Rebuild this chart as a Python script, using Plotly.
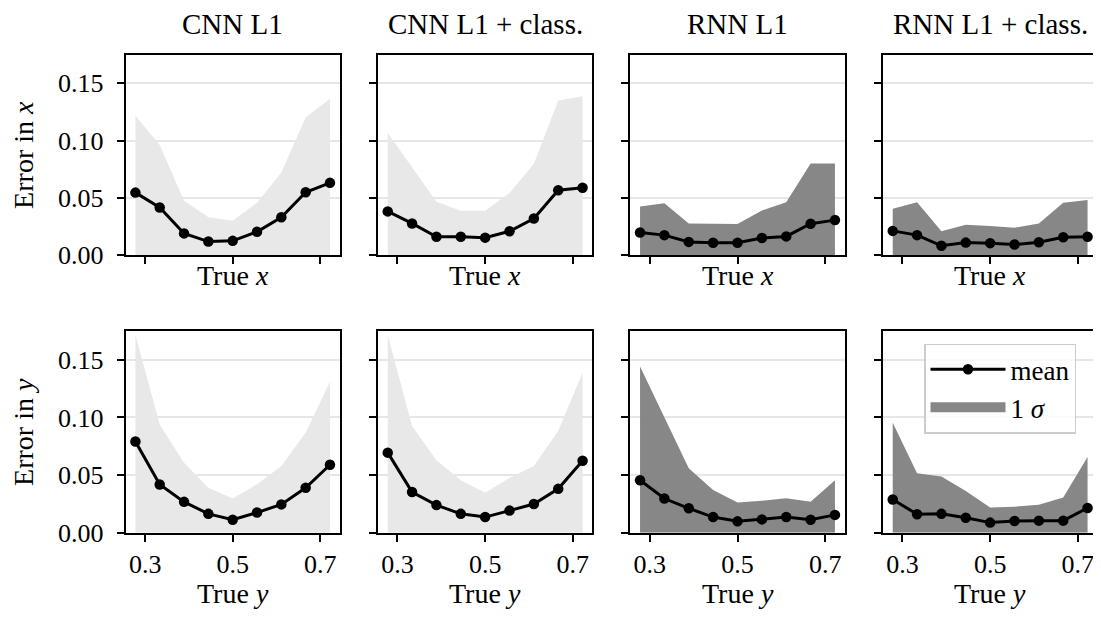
import plotly.graph_objects as go

# ---- data ----
true_pos = [0.2778, 0.3333, 0.3889, 0.4444, 0.5, 0.5556, 0.6111, 0.6667, 0.7222]

col_titles = ["CNN L1", "CNN L1 + class.", "RNN L1", "RNN L1 + class."]
row_ylabels = ["Error in <i>x</i>", "Error in <i>y</i>"]
row_xlabels = ["True <i>x</i>", "True <i>y</i>"]

cnn_x_mean = [0.0546, 0.0416, 0.0190, 0.0119, 0.0125, 0.0204, 0.0331, 0.0549, 0.0631]
cnn_x_upper = [0.1217, 0.0962, 0.0475, 0.0331, 0.0300, 0.0458, 0.0722, 0.1200, 0.1364]
cnncl_x_mean = [0.0382, 0.0277, 0.0161, 0.0161, 0.0153, 0.0209, 0.0320, 0.0566, 0.0589]
cnncl_x_upper = [0.1067, 0.0764, 0.0467, 0.0388, 0.0388, 0.0543, 0.0798, 0.1350, 0.1387]
rnn_x_mean = [0.0198, 0.0175, 0.0116, 0.0108, 0.0108, 0.0150, 0.0164, 0.0274, 0.0306]
rnn_x_upper = [0.0424, 0.0453, 0.0277, 0.0272, 0.0272, 0.0390, 0.0461, 0.0800, 0.0800]
rnncl_x_mean = [0.0212, 0.0175, 0.0082, 0.0110, 0.0105, 0.0093, 0.0113, 0.0156, 0.0161]
rnncl_x_upper = [0.0405, 0.0461, 0.0209, 0.0266, 0.0255, 0.0240, 0.0277, 0.0458, 0.0481]

cnn_y_mean = [0.0791, 0.0418, 0.0268, 0.0164, 0.0113, 0.0175, 0.0246, 0.0390, 0.0590]
cnn_y_upper = [0.1718, 0.0940, 0.0607, 0.0390, 0.0297, 0.0420, 0.0580, 0.0870, 0.1310]
cnncl_y_mean = [0.0695, 0.0353, 0.0240, 0.0164, 0.0136, 0.0192, 0.0249, 0.0381, 0.0624]
cnncl_y_upper = [0.1718, 0.0927, 0.0630, 0.0455, 0.0347, 0.0475, 0.0580, 0.0884, 0.1387]
rnn_y_mean = [0.0455, 0.0297, 0.0212, 0.0136, 0.0099, 0.0116, 0.0136, 0.0113, 0.0155]
rnn_y_upper = [0.1443, 0.0997, 0.0559, 0.0370, 0.0263, 0.0277, 0.0300, 0.0270, 0.0455]
rnncl_y_mean = [0.0288, 0.0161, 0.0164, 0.0130, 0.0088, 0.0102, 0.0105, 0.0105, 0.0215]
rnncl_y_upper = [0.0955, 0.0517, 0.0489, 0.0362, 0.0220, 0.0226, 0.0243, 0.0305, 0.0658]

x_ticks = [0.3, 0.5, 0.7]
x_ticktext = ["0.3", "0.5", "0.7"]
y_ticks = [0.0, 0.05, 0.10, 0.15]
y_ticktext = ["0.00", "0.05", "0.10", "0.15"]

panels = [
    [(cnn_x_mean, cnn_x_upper), (cnncl_x_mean, cnncl_x_upper),
     (rnn_x_mean, rnn_x_upper), (rnncl_x_mean, rnncl_x_upper)],
    [(cnn_y_mean, cnn_y_upper), (cnncl_y_mean, cnncl_y_upper),
     (rnn_y_mean, rnn_y_upper), (rnncl_y_mean, rnncl_y_upper)],
]
band_colors = ["#e8e8e8", "#e8e8e8", "#878787", "#878787"]

# ---- layout geometry ----
W, H = 1101, 623
col_px = [(117.7, 331.7), (370.0, 584.3), (622.3, 836.7), (875.0, 1089.3)]
row_px = [(47.7, 253.3), (331.0, 537.7)]

FONT = "Liberation Serif, DejaVu Serif, serif"

fig = go.Figure()
layout = dict(
    width=W, height=H,
    margin=dict(l=0, r=0, t=0, b=0),
    paper_bgcolor="white", plot_bgcolor="white",
    font=dict(family=FONT, size=26, color="black"),
    showlegend=True,
)
annotations = []

for r in range(2):
    for c in range(4):
        idx = r * 4 + c + 1
        xa = "x" if idx == 1 else f"x{idx}"
        ya = "y" if idx == 1 else f"y{idx}"
        mean, upper = panels[r][c]
        is_legend = (r == 1 and c == 3)
        fig.add_trace(go.Scatter(
            x=true_pos, y=upper, xaxis=xa, yaxis=ya,
            mode="lines", line=dict(width=0, color=band_colors[c]),
            fill="tozeroy", fillcolor=band_colors[c],
            name="1 <i>σ</i>", showlegend=False, legendgroup="band",
            hoverinfo="skip"))
        fig.add_trace(go.Scatter(
            x=true_pos, y=mean, xaxis=xa, yaxis=ya,
            mode="lines+markers",
            line=dict(color="black", width=3),
            marker=dict(color="black", size=10.5),
            name="mean", showlegend=is_legend, legendrank=1))
        if is_legend:
            # legend entry for the 1-sigma band (a wide gray swatch, no plotted mark)
            fig.add_trace(go.Scatter(
                x=[None], y=[None], xaxis=xa, yaxis=ya,
                mode="lines", line=dict(color=band_colors[c], width=20),
                name="1 <i>σ</i>", showlegend=True, legendrank=2,
                legendgroup="band", hoverinfo="skip"))

        x0, x1 = col_px[c]
        y0, y1 = row_px[r]
        xkey = "xaxis" if idx == 1 else f"xaxis{idx}"
        ykey = "yaxis" if idx == 1 else f"yaxis{idx}"
        layout[xkey] = dict(
            domain=[x0 / W, x1 / W], anchor=ya,
            range=[0.2556, 0.7444],
            tickvals=x_ticks, ticktext=x_ticktext,
            showticklabels=(r == 1),
            ticks="outside", ticklen=7, tickwidth=1.6, tickcolor="black",
            showline=True, linecolor="black", linewidth=2, mirror=True,
            showgrid=False, zeroline=False,
            tickfont=dict(size=26), ticklabelstandoff=0,
        )
        layout[ykey] = dict(
            domain=[1 - y1 / H, 1 - y0 / H], anchor=xa,
            range=[0, 0.175],
            tickvals=y_ticks, ticktext=y_ticktext,
            showticklabels=(c == 0),
            ticks="outside", ticklen=7, tickwidth=1.6, tickcolor="black",
            showline=True, linecolor="black", linewidth=2, mirror=True,
            showgrid=True, gridcolor="#e6e6e6", gridwidth=1.6,
            zeroline=False,
            tickfont=dict(size=26), ticklabelstandoff=8,
        )

# column titles and axis titles
for c in range(4):
    xc = (col_px[c][0] + col_px[c][1]) / 2 / W
    annotations.append(dict(text=col_titles[c], x=xc, y=1 - 16 / H,
                            xref="paper", yref="paper", showarrow=False,
                            xanchor="center", yanchor="middle",
                            font=dict(size=29)))
    for r in range(2):
        ypx = 274 if r == 0 else 600
        annotations.append(dict(text=row_xlabels[r], x=xc, y=1 - ypx / H,
                                xref="paper", yref="paper", showarrow=False,
                                xanchor="center", yanchor="middle",
                                font=dict(size=28)))
for r in range(2):
    yc = (row_px[r][0] + row_px[r][1]) / 2
    annotations.append(dict(text=row_ylabels[r], x=16 / W, y=1 - yc / H,
                            xref="paper", yref="paper", showarrow=False,
                            xanchor="center", yanchor="middle", textangle=-90,
                            font=dict(size=28)))

layout["annotations"] = annotations
layout["legend"] = dict(
    x=1068 / W, y=1 - 344 / H, xanchor="right", yanchor="top",
    bgcolor="rgba(255,255,255,0.8)", bordercolor="#cccccc", borderwidth=1.5,
    font=dict(size=27), tracegroupgap=0, itemwidth=75,
)
fig.update_layout(**layout)
fig.write_html("out.html")
